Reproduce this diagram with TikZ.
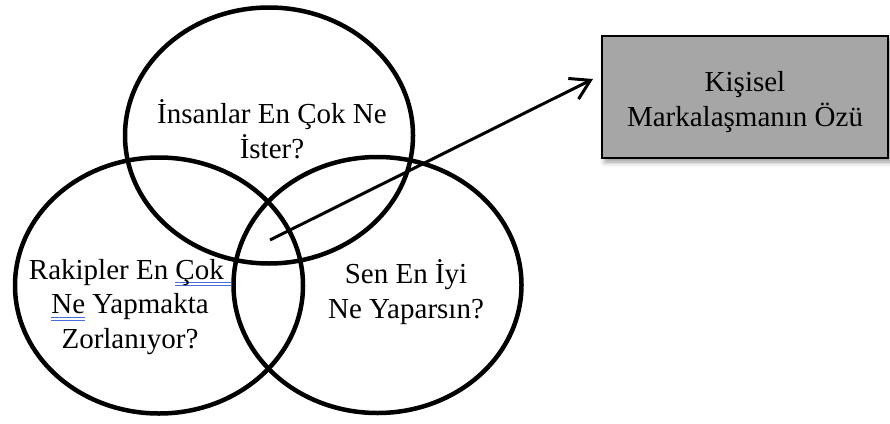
\documentclass[tikz,border=0pt]{standalone}
\usepackage{fontspec}
\setmainfont{Liberation Serif}
\usetikzlibrary{shapes.geometric,arrows.meta,shadows.blur,backgrounds}
\definecolor{boxgray}{RGB}{166,166,166}
\definecolor{spellblue}{RGB}{70,110,220}
\newcommand\spellmark[1]{\setbox0\hbox{#1}\rlap{\color{spellblue}\rule[-3.5pt]{\wd0}{0.9pt}\kern-\wd0\rule[-6.5pt]{\wd0}{0.9pt}}\box0\relax}
\begin{document}
\begin{tikzpicture}[x=1pt,y=-1pt,
  ring/.style={ellipse, draw, line width=4.5pt, minimum width=288pt, minimum height=256pt, inner sep=0pt},
  ringshadow/.style={draw=black, draw opacity=#1},
  lbl/.style={align=center, inner sep=0pt, font=\fontsize{29}{34.5}\selectfont},
  boxstyle/.style={draw, line width=2pt, fill=boxgray, minimum width=286pt, minimum height=122pt,
    inner sep=0pt,
    blur shadow={shadow xshift=3pt, shadow yshift=-4pt, shadow blur radius=5pt, shadow opacity=40}},
  conn/.style={line width=3pt, -{Straight Barb[length=19pt,width=23pt]}}]
\useasboundingbox (0,0) rectangle (890,423);
\node[ring] (want) at (269,135.5) {};
\node[ring] (rivals) at (159,285.5) {};
\node[ring] (you) at (377.5,285) {};
\begin{pgfonlayer}{background}
\foreach \n in {want,rivals,you} {
  \draw[ringshadow=0.05, line width=15pt] ([shift={(3,4)}]\n.center) ellipse [x radius=144, y radius=128];
  \draw[ringshadow=0.07, line width=10pt] ([shift={(3,4)}]\n.center) ellipse [x radius=144, y radius=128];
  \draw[ringshadow=0.09, line width=6pt] ([shift={(3,4)}]\n.center) ellipse [x radius=144, y radius=128];
}
\end{pgfonlayer}
\node[lbl] (wantT) at (272,129) {İnsanlar En Çok Ne\\İster?};
\node[lbl] (rivalsT) at (130,307) {Rakipler En \spellmark{Çok }\\\spellmark{Ne} Yapmakta\\Zorlanıyor?};
\node[lbl] (youT) at (406,292) {Sen En İyi\\Ne Yaparsın?};
\node[boxstyle] (box) at (745,97) {};
\node[lbl] (boxT) at ([yshift=-5pt]box.center) {Kişisel\\Markalaşmanın Özü};
\coordinate (src) at (270,240);
\coordinate (tip) at (593,79);
\draw[conn] (src) -- (tip);
\end{tikzpicture}
\end{document}
